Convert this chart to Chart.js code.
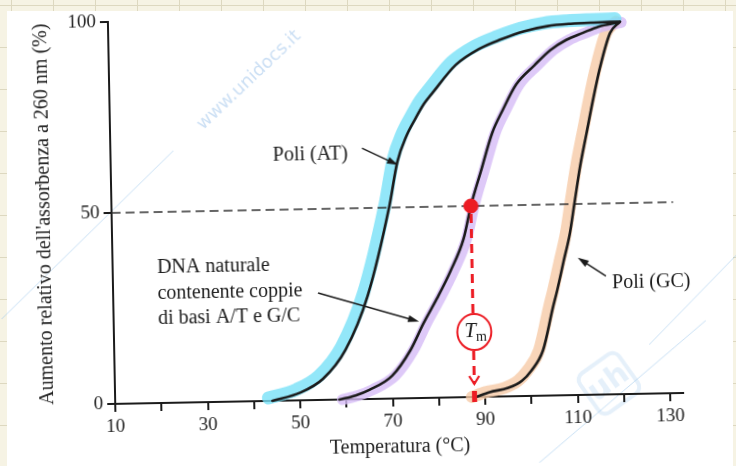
<!DOCTYPE html>
<html>
<head>
<meta charset="utf-8">
<script src="https://cdn.jsdelivr.net/npm/chart.js@4.4.0/dist/chart.umd.min.js"></script>
<style>
  html, body { margin: 0; padding: 0; }
  body {
    width: 736px; height: 466px; overflow: hidden; position: relative;
    background-color: #f6f3e4;
    background-image: linear-gradient(to right, #ddd8c0 1px, transparent 1px),
                      linear-gradient(to bottom, #ddd8c0 1px, transparent 1px);
    background-size: 42px 42px;
    background-position: 11px 5px;
  }
  #sheet { position: absolute; left: 7px; top: 11px; width: 726px; height: 455px; background: #fff; }
  /* the scanned figure is slightly rotated */
  #wrap { position: absolute; left: 0; top: 0; width: 736px; height: 466px;
          transform: rotate(-1.1deg); transform-origin: 368px 233px; }
</style>
</head>
<body>
<div id="sheet"></div>
<div id="wrap"><canvas id="meltChart" width="736" height="466"></canvas></div>
<script>
// curve data (temperature in °C, relative increase in %)
const atTemp  = [44, 50, 55, 60, 65, 70, 72, 74, 76, 78, 80, 85, 90, 95, 100, 105, 110, 115, 120.5];
const atValue = [0, 2, 5.5, 13, 27, 50, 62, 68.5, 73, 77, 80, 87, 91, 93.5, 95.5, 96.7, 97.2, 97.4, 97.5];

const natTemp  = [58.5, 62, 65, 70, 74, 77, 80, 83, 86, 87.7, 90, 92.6, 95, 98, 102, 105.5, 109, 112.7, 116, 120.3];
const natValue = [0, 1, 2.4, 6, 12.5, 19.6, 26, 33, 41.5, 50, 59, 69, 75, 81.6, 86.5, 90.4, 93, 94.8, 96.3, 97.3];

const gcTemp  = [88, 91, 95, 98, 100, 102.7, 105, 106, 107.5, 109, 110.2, 111.5, 113, 114.5, 116.2, 118.5, 120.7];
const gcValue = [0, 1.2, 2.2, 4, 6.5, 11.9, 23, 27.5, 35, 42.5, 51, 60, 68.5, 77, 85.7, 94.6, 97.5];

const halfTemp  = [10, 131.4];
const halfValue = [50, 50];

const tmTemp  = [87.7];
const tmValue = [50];

const xTicks  = [10, 20, 30, 40, 50, 60, 70, 80, 90, 100, 110, 120, 130];
const xLabels = [10, 30, 50, 70, 90, 110, 130];
const yTicks  = [0, 50, 100];

const toPoints = (xs, ys) => xs.map((v, i) => ({ x: v, y: ys[i] }));

const RED = '#ec1c24';
const INK = '#1b1b1b';
const SERIF = "'Liberation Serif', 'Times New Roman', serif";

Chart.defaults.font.family = SERIF;
Chart.defaults.color = INK;

function arrow(ctx, x1, y1, x2, y2) {
    const a = Math.atan2(y2 - y1, x2 - x1);
    ctx.beginPath();
    ctx.moveTo(x1, y1);
    ctx.lineTo(x2 - 8 * Math.cos(a), y2 - 8 * Math.sin(a));
    ctx.stroke();
    ctx.beginPath();
    ctx.moveTo(x2, y2);
    ctx.lineTo(x2 - 11 * Math.cos(a) + 3.5 * Math.sin(a), y2 - 11 * Math.sin(a) - 3.5 * Math.cos(a));
    ctx.lineTo(x2 - 11 * Math.cos(a) - 3.5 * Math.sin(a), y2 - 11 * Math.sin(a) + 3.5 * Math.cos(a));
    ctx.closePath();
    ctx.fill();
}

// faint watermark of the scanned page
const watermark = {
    id: 'watermark',
    beforeDraw(chart) {
        const ctx = chart.ctx;
        ctx.save();
        ctx.strokeStyle = 'rgba(150, 195, 235, 0.5)';
        ctx.lineWidth = 1;
        ctx.beginPath();
        ctx.moveTo(175, 147); ctx.lineTo(0, 312);
        ctx.moveTo(736, 262); ctx.lineTo(647, 350);
        ctx.moveTo(704, 327); ctx.lineTo(530, 470);
        ctx.stroke();
        ctx.translate(252, 78);
        ctx.rotate(-0.74);
        ctx.fillStyle = 'rgba(140, 185, 230, 0.45)';
        ctx.font = "18px 'DejaVu Sans'";
        ctx.textAlign = 'center';
        ctx.textBaseline = 'middle';
        ctx.fillText('www.unidocs.it', 0, 0);
        ctx.restore();

        ctx.save();
        ctx.translate(606, 388);
        ctx.rotate(-0.6);
        ctx.strokeStyle = 'rgba(160, 200, 238, 0.28)';
        ctx.lineWidth = 4;
        ctx.beginPath();
        ctx.roundRect(-24, -24, 48, 48, 8);
        ctx.stroke();
        ctx.fillStyle = 'rgba(160, 200, 238, 0.28)';
        ctx.font = "bold 30px 'DejaVu Sans'";
        ctx.textAlign = 'center';
        ctx.textBaseline = 'middle';
        ctx.fillText('uh', 0, 0);
        ctx.restore();
    }
};

// small pixel offset of the highlighter strokes
const highlighter = {
    id: 'highlighter',
    beforeDatasetDraw(chart, args) {
        const ds = chart.data.datasets[args.index];
        if (!ds.shift) return;
        chart.ctx.save();
        chart.ctx.translate(ds.shift[0], ds.shift[1]);
    },
    afterDatasetDraw(chart, args) {
        const ds = chart.data.datasets[args.index];
        if (ds.shift) chart.ctx.restore();
    }
};

const annotations = {
    id: 'annotations',
    afterDatasetsDraw(chart) {
        const { ctx, scales: { x, y } } = chart;
        const px = v => x.getPixelForValue(v);
        const py = v => y.getPixelForValue(v);

        ctx.save();
        ctx.fillStyle = INK;
        ctx.strokeStyle = INK;
        ctx.lineWidth = 1.4;
        ctx.font = '20px ' + SERIF;
        ctx.textBaseline = 'middle';

        ctx.fillText('Poli (AT)', px(45.1), py(64.3));
        arrow(ctx, px(64.4), py(65.7), px(72.1), py(61.1));

        ['DNA naturale', 'contenente coppie', 'di basi A/T e G/C'].forEach((t, i) => {
            ctx.fillText(t, px(19.6), py(35.3) + i * 25.5);
        });
        arrow(ctx, px(54.3), py(28), px(76), py(20));

        ctx.fillText('Poli (GC)', px(117.9), py(29.1));
        arrow(ctx, px(116.6), py(31), px(110.6), py(35.9));

        // Tm marker in red pen
        const tx = px(tmTemp[0]);
        const cy = py(17);
        const base = py(0);
        ctx.strokeStyle = RED;
        ctx.fillStyle = RED;
        ctx.lineWidth = 3;
        ctx.setLineDash([9, 6]);
        ctx.beginPath();
        ctx.moveTo(tx, py(tmValue[0]) + 8);
        ctx.lineTo(tx, cy - 19);
        ctx.moveTo(tx, cy + 19);
        ctx.lineTo(tx, base - 13);
        ctx.stroke();
        ctx.setLineDash([]);
        ctx.lineWidth = 2.2;
        ctx.beginPath();
        ctx.moveTo(tx - 5, base - 21);
        ctx.lineTo(tx, base - 13);
        ctx.lineTo(tx + 5, base - 21);
        ctx.stroke();
        ctx.fillRect(tx - 2.5, base - 6, 5, 11);

        ctx.lineWidth = 2;
        ctx.beginPath();
        ctx.ellipse(tx + 1, cy, 17, 18, 0, 0, Math.PI * 2);
        ctx.stroke();
        ctx.fillStyle = INK;
        ctx.font = 'italic 21px ' + SERIF;
        ctx.textAlign = 'center';
        ctx.fillText('T', tx - 3, cy - 1);
        ctx.font = '14px ' + SERIF;
        ctx.fillText('m', tx + 8, cy + 5);
        ctx.restore();
    }
};

const curveLine = (label, xs, ys, color, width, order, shift) => ({
    type: 'line',
    label: label,
    data: toPoints(xs, ys),
    borderColor: color,
    borderWidth: width,
    borderCapStyle: 'round',
    borderJoinStyle: 'round',
    pointRadius: 0,
    cubicInterpolationMode: 'monotone',
    fill: false,
    clip: false,
    order: order,
    shift: shift
});

new Chart(document.getElementById('meltChart'), {
    type: 'line',
    data: {
        datasets: [
            curveLine('AT evidenziatore', atTemp, atValue, 'rgba(120, 225, 248, 0.8)', 13, 10, [-4, -3]),
            curveLine('DNA evidenziatore', natTemp, natValue, 'rgba(214, 188, 246, 0.8)', 11, 10, [3, 0]),
            curveLine('GC evidenziatore', gcTemp, gcValue, 'rgba(246, 202, 168, 0.8)', 12, 10, [-4, 0]),
            {
                type: 'line',
                label: '50%',
                data: toPoints(halfTemp, halfValue),
                borderColor: '#333',
                borderWidth: 1.5,
                borderDash: [9, 5],
                pointRadius: 0,
                order: 6
            },
            curveLine('Poli (AT)', atTemp, atValue, INK, 2.6, 5),
            curveLine('DNA naturale', natTemp, natValue, INK, 2.6, 5),
            curveLine('Poli (GC)', gcTemp, gcValue, INK, 2.6, 5),
            {
                type: 'scatter',
                label: 'Tm',
                data: toPoints(tmTemp, tmValue),
                backgroundColor: RED,
                borderColor: RED,
                pointRadius: 7,
                order: 0
            }
        ]
    },
    options: {
        responsive: false,
        animation: false,
        layout: { padding: { left: 0, right: 56, top: 17, bottom: 0 } },
        plugins: {
            legend: { display: false },
            tooltip: { enabled: false }
        },
        scales: {
            x: {
                type: 'linear',
                min: 10,
                max: 132.8,
                afterBuildTicks: s => { s.ticks = xTicks.map(v => ({ value: v })); },
                afterFit: s => { s.height = 67; },
                border: { color: INK, width: 2 },
                grid: { drawOnChartArea: false, drawTicks: true, tickLength: 8, color: INK, lineWidth: 2 },
                ticks: {
                    color: '#222',
                    font: { size: 19 },
                    padding: 4,
                    maxRotation: 0,
                    autoSkip: false,
                    callback: v => xLabels.includes(v) ? String(v) : ''
                },
                title: { display: true, text: 'Temperatura (°C)', color: '#222', font: { size: 20 }, padding: { top: 0, bottom: 6 } }
            },
            y: {
                type: 'linear',
                min: 0,
                max: 100,
                afterBuildTicks: s => { s.ticks = yTicks.map(v => ({ value: v })); },
                afterFit: s => { s.width = 112; },
                border: { color: INK, width: 2 },
                grid: { drawOnChartArea: false, drawTicks: true, tickLength: 8, color: INK, lineWidth: 2 },
                ticks: { color: '#222', font: { size: 19 }, padding: 4 },
                title: {
                    display: true,
                    text: "Aumento relativo dell'assorbenza a 260 nm (%)",
                    color: '#222',
                    font: { size: 20 },
                    padding: { top: 33, bottom: 0 }
                }
            }
        }
    },
    plugins: [watermark, highlighter, annotations]
});
</script>
</body>
</html>
